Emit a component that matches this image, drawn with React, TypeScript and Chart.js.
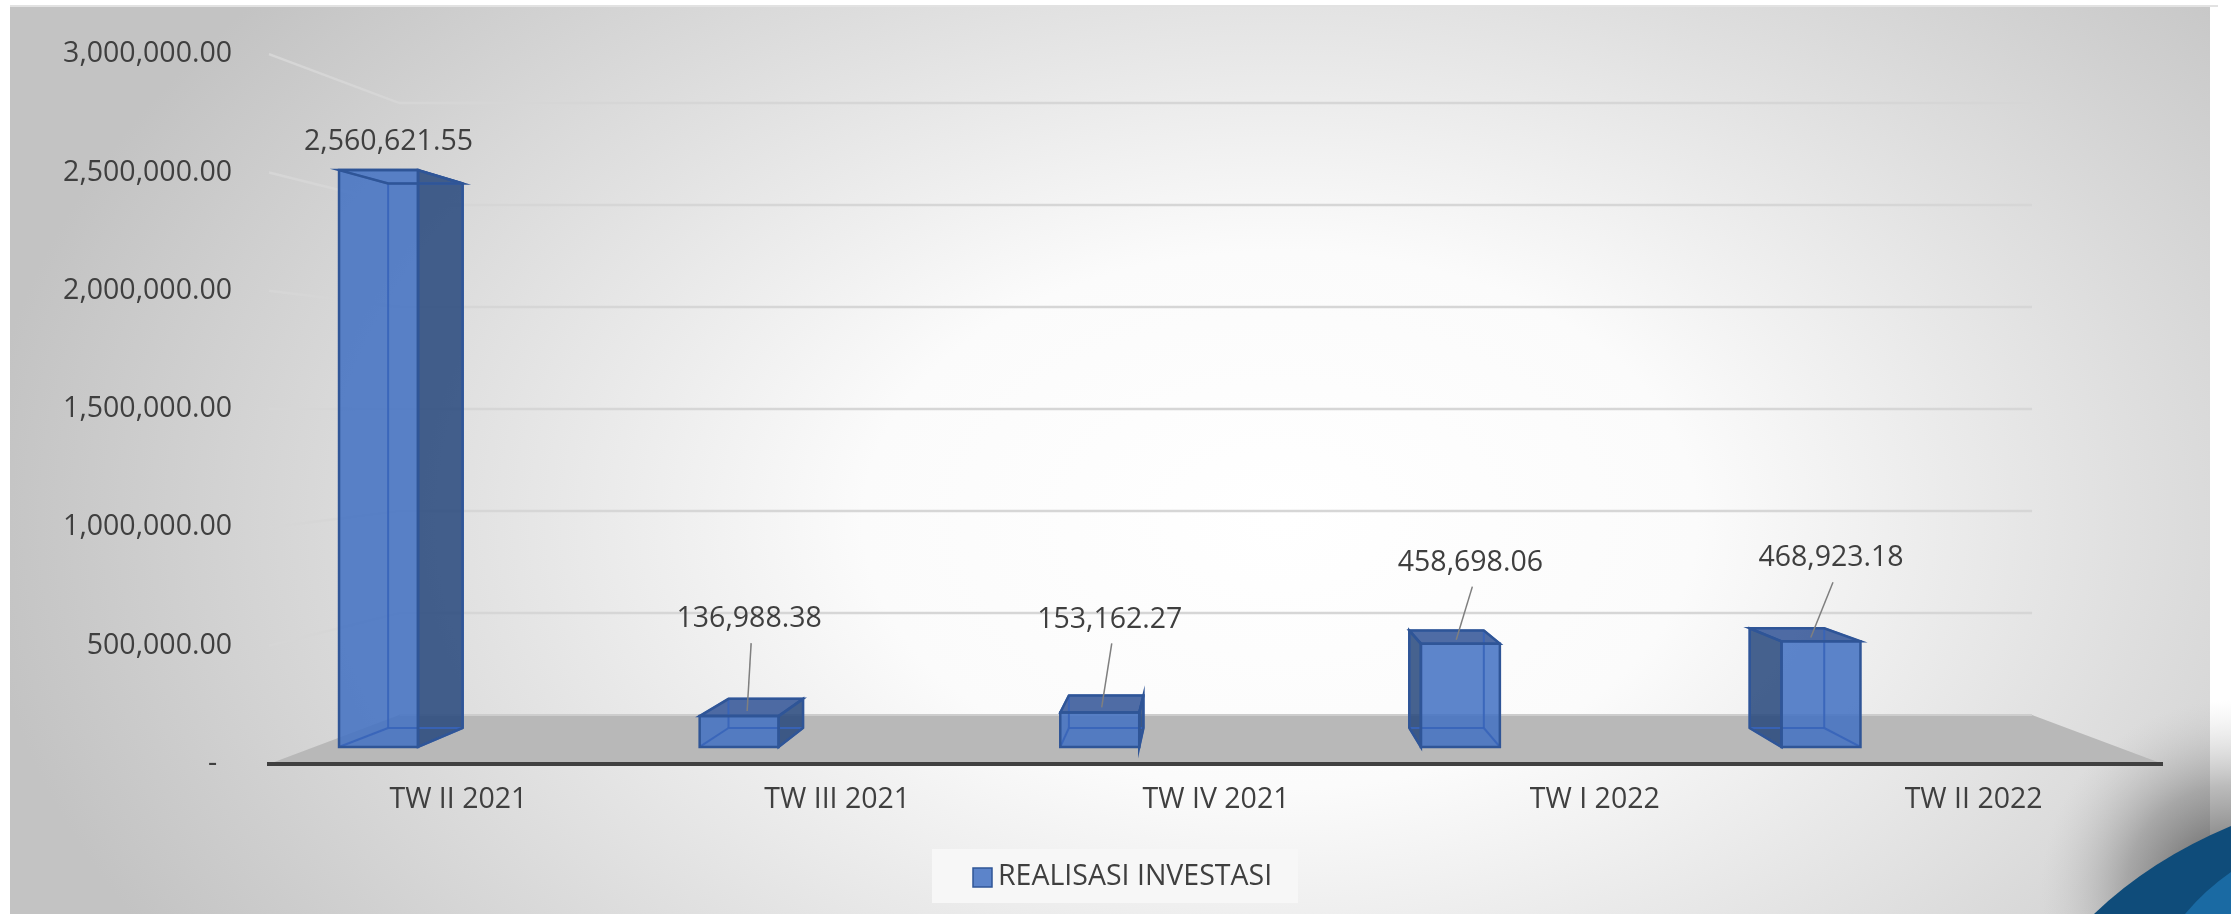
import React, { useEffect, useRef } from "react";
import { Chart, registerables } from "chart.js";

Chart.register(...registerables);

// ---------- data ----------
const CATEGORIES = ["TW II 2021", "TW III 2021", "TW IV 2021", "TW I 2022", "TW II 2022"];
const SERIES_NAME = "REALISASI INVESTASI";
const VALUES = [2560621.55, 136988.38, 153162.27, 458698.06, 468923.18];
const Y_MIN = 0;
const Y_MAX = 3000000;
const Y_STEP = 500000;

// ---------- style ----------
const W = 2231;
const H = 914;
const FONT = "'Open Sans', 'Noto Sans', sans-serif";
const FONT_SIZE = 28.5;
const TEXT = "#3f3f3f";

// perspective of the 3-D look
const VP = { x: 1214, y: 409 };
const K_FRONT = 0.952;
const K_BACK = 0.8986;
const K_WALL = 0.862;
const BAR_SHIFT = -122;
const LABEL_LIFT = [28, 97, 93, 81, 83];

const proj = (x: number, y: number, k: number): [number, number] => [
  VP.x + (x - VP.x) * k,
  VP.y + (y - VP.y) * k,
];

const fmt = (v: number) =>
  v.toLocaleString("en-US", { minimumFractionDigits: 2, maximumFractionDigits: 2 });

function poly(ctx: CanvasRenderingContext2D, pts: [number, number][]) {
  ctx.beginPath();
  ctx.moveTo(pts[0][0], pts[0][1]);
  for (let i = 1; i < pts.length; i++) ctx.lineTo(pts[i][0], pts[i][1]);
  ctx.closePath();
}

const decorPlugin = {
  id: "decor3d",
  beforeDraw(chart: any) {
    const ctx: CanvasRenderingContext2D = chart.ctx;
    ctx.save();
    ctx.fillStyle = "#ffffff";
    ctx.fillRect(0, 0, W, H);
    // chart background
    ctx.save();
    ctx.beginPath();
    ctx.rect(10, 5, 2208, 909);
    ctx.clip();
    ctx.translate(1280, 520);
    ctx.scale(1.55, 1);
    const g = ctx.createRadialGradient(0, 0, 0, 0, 0, 840);
    g.addColorStop(0, "#ffffff");
    g.addColorStop(0.32, "#fbfbfb");
    g.addColorStop(1, "#c3c3c3");
    ctx.fillStyle = g;
    ctx.fillRect(-900, -600, 1500, 1600);
    ctx.restore();
    ctx.strokeStyle = "#e2e2e2";
    ctx.lineWidth = 2;
    ctx.beginPath();
    ctx.moveTo(10, 6);
    ctx.lineTo(2218, 6);
    ctx.stroke();
    // bottom-right corner decoration
    ctx.save();
    const cg = ctx.createRadialGradient(2231, 890, 0, 2231, 890, 190);
    cg.addColorStop(0, "rgba(60,60,60,0.9)");
    cg.addColorStop(0.55, "rgba(120,120,120,0.5)");
    cg.addColorStop(1, "rgba(190,190,190,0)");
    ctx.fillStyle = cg;
    ctx.fillRect(2030, 690, 201, 224);
    ctx.fillStyle = "#0f4c7a";
    ctx.beginPath();
    ctx.moveTo(2094, 914);
    ctx.quadraticCurveTo(2150, 860, 2231, 826);
    ctx.lineTo(2231, 914);
    ctx.closePath();
    ctx.fill();
    ctx.fillStyle = "#1a6aa3";
    ctx.beginPath();
    ctx.moveTo(2185, 914);
    ctx.quadraticCurveTo(2205, 890, 2231, 872);
    ctx.lineTo(2231, 914);
    ctx.closePath();
    ctx.fill();
    ctx.restore();
    ctx.restore();
  },
  beforeDatasetsDraw(chart: any) {
    const ctx: CanvasRenderingContext2D = chart.ctx;
    const { left, right, bottom } = chart.chartArea;
    const ys = chart.scales.y;
    ctx.save();
    // walls' gridlines
    ctx.strokeStyle = "#d6d6d6";
    ctx.lineWidth = 2.5;
    for (let v = Y_MIN + Y_STEP; v <= Y_MAX; v += Y_STEP) {
      const py = ys.getPixelForValue(v);
      const b = proj(left, py, K_WALL);
      const c = proj(right, py, K_WALL);
      ctx.beginPath();
      ctx.moveTo(left, py);
      ctx.lineTo(b[0], b[1]);
      ctx.lineTo(c[0], c[1]);
      ctx.stroke();
    }
    // floor
    const bl = proj(left, bottom, K_WALL);
    const br = proj(right, bottom, K_WALL);
    poly(ctx, [[left, bottom], [right, bottom], br, bl]);
    ctx.fillStyle = "#b8b8b8";
    ctx.fill();
    ctx.strokeStyle = "#cdcdcd";
    ctx.lineWidth = 2;
    ctx.beginPath();
    ctx.moveTo(bl[0], bl[1]);
    ctx.lineTo(br[0], br[1]);
    ctx.stroke();
    // front axis line
    ctx.strokeStyle = "#404040";
    ctx.lineWidth = 4;
    ctx.beginPath();
    ctx.moveTo(left - 2, bottom);
    ctx.lineTo(right, bottom);
    ctx.stroke();
    ctx.restore();
  },
  afterDatasetsDraw(chart: any) {
    const ctx: CanvasRenderingContext2D = chart.ctx;
    const meta = chart.getDatasetMeta(0);
    const values = chart.data.datasets[0].data as number[];
    ctx.save();
    meta.data.forEach((el: any, i: number) => {
      const { x, y, base, width } = el.getProps(["x", "y", "base", "width"], true);
      const L = x - width / 2 + BAR_SHIFT;
      const R = x + width / 2 + BAR_SHIFT;
      const FTL = proj(L, y, K_FRONT), FTR = proj(R, y, K_FRONT);
      const FBL = proj(L, base, K_FRONT), FBR = proj(R, base, K_FRONT);
      const BTL = proj(L, y, K_BACK), BTR = proj(R, y, K_BACK);
      const BBL = proj(L, base, K_BACK), BBR = proj(R, base, K_BACK);
      const rightSide = (L + R) / 2 < VP.x;
      // side face
      if (rightSide) poly(ctx, [FTR, BTR, BBR, FBR]);
      else poly(ctx, [FTL, BTL, BBL, FBL]);
      ctx.fillStyle = "rgba(38,70,123,0.85)";
      ctx.fill();
      // top face
      if (y > VP.y) {
        poly(ctx, [FTL, FTR, BTR, BTL]);
        ctx.fillStyle = "rgba(48,82,149,0.85)";
        ctx.fill();
      }
      // front face
      poly(ctx, [FTL, FTR, FBR, FBL]);
      ctx.fillStyle = "rgba(65,112,194,0.85)";
      ctx.fill();
      // inner edges
      ctx.strokeStyle = "rgba(55,100,185,0.9)";
      ctx.lineWidth = 2;
      const edges: [number, number][][] = [
        [BTL, BTR], [BTR, BBR], [BBR, BBL], [BBL, BTL],
        [FTL, BTL], [FTR, BTR], [FBL, BBL], [FBR, BBR],
      ];
      edges.forEach(([a, b]) => {
        ctx.beginPath();
        ctx.moveTo(a[0], a[1]);
        ctx.lineTo(b[0], b[1]);
        ctx.stroke();
      });
      // outer edges
      ctx.strokeStyle = "#2f5597";
      ctx.lineWidth = 2.5;
      poly(ctx, [FTL, FTR, FBR, FBL]);
      ctx.stroke();
      if (rightSide) poly(ctx, [FTR, BTR, BBR, FBR]);
      else poly(ctx, [FTL, BTL, BBL, FBL]);
      ctx.stroke();
      poly(ctx, [FTL, FTR, BTR, BTL]);
      ctx.stroke();

      // data label
      const fc = proj((L + R) / 2, y, K_FRONT);
      const bc = proj((L + R) / 2, y, K_BACK);
      const lift = LABEL_LIFT[i] ?? 30;
      const lx = fc[0] + 10;
      const ly = fc[1] - lift;
      if (lift > 50) {
        const ax = fc[0] + (bc[0] - fc[0]) * 0.3;
        const ay = fc[1] + (bc[1] - fc[1]) * 0.3;
        ctx.strokeStyle = "#7f7f7f";
        ctx.lineWidth = 1.5;
        ctx.beginPath();
        ctx.moveTo(lx + 2, ly + 24);
        ctx.lineTo(ax, ay);
        ctx.stroke();
      }
      ctx.fillStyle = TEXT;
      ctx.font = `${FONT_SIZE}px ${FONT}`;
      ctx.textAlign = "center";
      ctx.textBaseline = "middle";
      ctx.fillText(fmt(values[i]), lx, ly);
    });
    ctx.restore();
  },
  afterDraw(chart: any) {
    const ctx: CanvasRenderingContext2D = chart.ctx;
    ctx.save();
    ctx.fillStyle = "#f7f7f7";
    ctx.fillRect(932, 849, 366, 54);
    ctx.fillStyle = "rgba(65,112,194,0.85)";
    ctx.fillRect(973, 868, 19, 19);
    ctx.strokeStyle = "#2f5597";
    ctx.lineWidth = 1.5;
    ctx.strokeRect(973, 868, 19, 19);
    ctx.fillStyle = TEXT;
    ctx.font = `${FONT_SIZE}px ${FONT}`;
    ctx.textAlign = "left";
    ctx.textBaseline = "middle";
    ctx.fillText(chart.data.datasets[0].label, 998, 877);
    ctx.restore();
  },
};

export default function App() {
  const ref = useRef<HTMLCanvasElement>(null);
  useEffect(() => {
    document.body.style.margin = "0";
    const chart = new Chart(ref.current as HTMLCanvasElement, {
      type: "bar",
      data: {
        labels: CATEGORIES,
        datasets: [
          {
            label: SERIES_NAME,
            data: VALUES,
            backgroundColor: "rgba(0,0,0,0)",
            borderWidth: 0,
            barPercentage: 0.219,
            categoryPercentage: 1,
          },
        ],
      },
      options: {
        responsive: false,
        animation: false,
        devicePixelRatio: 1,
        layout: { padding: { left: 0, right: 68, top: 52, bottom: 0 } },
        plugins: { legend: { display: false }, tooltip: { enabled: false } },
        scales: {
          x: {
            grid: { display: false, drawTicks: false },
            border: { display: false },
            ticks: {
              color: TEXT,
              font: { family: FONT, size: FONT_SIZE },
              padding: 19,
              maxRotation: 0,
              autoSkip: false,
            },
            afterFit: (s: any) => {
              s.height = 150;
            },
          },
          y: {
            min: Y_MIN,
            max: Y_MAX,
            grid: { display: false, drawTicks: false },
            border: { display: false },
            ticks: {
              stepSize: Y_STEP,
              color: TEXT,
              font: { family: FONT, size: FONT_SIZE },
              padding: 37,
              callback: (v: any) => (Number(v) === 0 ? "-  " : fmt(Number(v))),
            },
            afterFit: (s: any) => {
              s.width = 269;
            },
          },
        },
      } as any,
      plugins: [decorPlugin],
    });
    return () => chart.destroy();
  }, []);
  return (
    <div style={{ position: "fixed", left: 0, top: 0, width: W, height: H }}>
      <canvas ref={ref} width={W} height={H} style={{ width: W, height: H, display: "block" }} />
    </div>
  );
}
